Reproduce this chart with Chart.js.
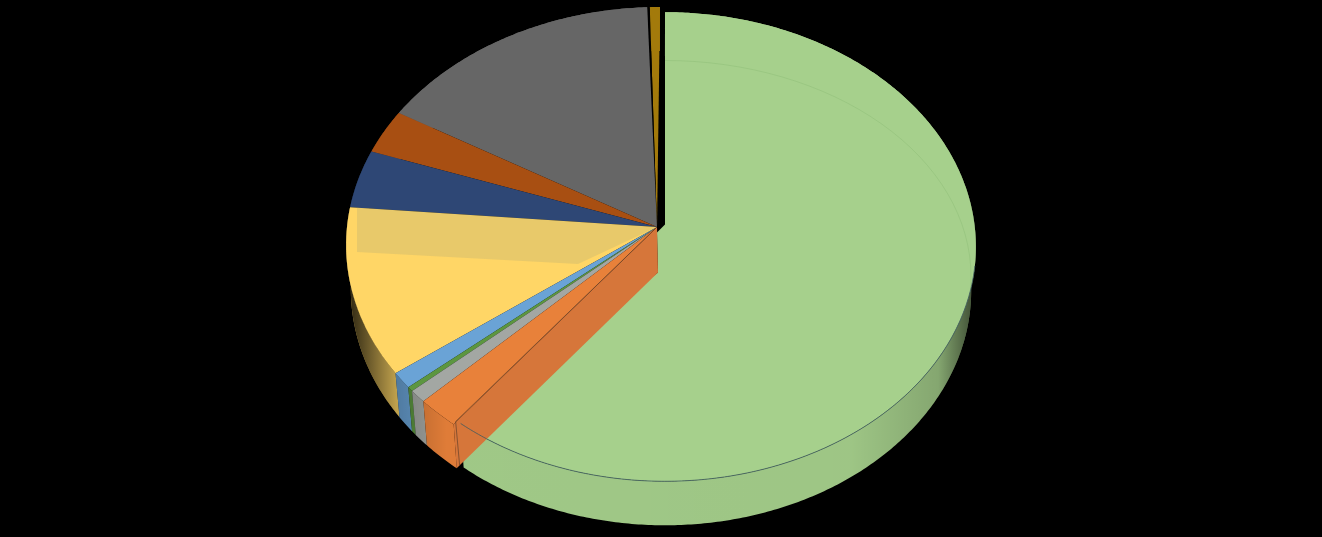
<!DOCTYPE html>
<html>
<head>
<meta charset="utf-8">
<title>Pie</title>
<style>
  html, body { margin: 0; padding: 0; background: #000; overflow: hidden; }
  canvas { display: block; }
</style>
<script src="https://cdn.jsdelivr.net/npm/chart.js@4"></script>
</head>
<body>
<canvas id="chart" width="1322" height="537"></canvas>
<script>
// no labels in the picture, so just numbered categories
const categories = ['1', '2', '3', '4', '5', '6', '7', '8', '9', '10', '11'];
// shares in percent
const values = [60.67, 2.06, 0.86, 0.3, 1.09, 11.39, 3.97, 3.03, 15.97, 0.14, 0.56];
const colors = ['#a6d08c', '#e8813a', '#a3a7a3', '#5c9640', '#6aa3d6', '#ffd666',
                '#2e4775', '#a84f12', '#666666', '#000000', '#a37a0b'];

// tilted disc, offsets are from the centre Chart.js gives the arcs
const K = 0.0756;
const DEPTH = 44;
const rest = { dx: -1, dy: -41.5, rx: 313, ry: 236.6 };
const big = { dx: 4, dy: -39.5, rx: 310, ry: 233.2 };

function rim(arc, disc, a) {
  const u = Math.cos(a), v = Math.sin(a);
  const w = 1 - K * v;
  return { x: arc.x + disc.dx + disc.rx * u / w, y: arc.y + disc.dy + disc.ry * v / w };
}

function tracePath(ctx, arc, disc, from, to) {
  const n = Math.max(2, Math.ceil(Math.abs(to - from) / 0.01));
  for (let i = 0; i <= n; i++) {
    const p = rim(arc, disc, from + (to - from) * i / n);
    ctx.lineTo(p.x, p.y);
  }
}

function drawWall(ctx, arc, disc, color) {
  const n = Math.max(2, Math.ceil((arc.endAngle - arc.startAngle) / 0.01));
  const pts = [];
  for (let i = 0; i <= n; i++) {
    pts.push(rim(arc, disc, arc.startAngle + (arc.endAngle - arc.startAngle) * i / n));
  }
  ctx.beginPath();
  pts.forEach(p => ctx.lineTo(p.x, p.y));
  pts.reverse().forEach(p => ctx.lineTo(arc.x + (p.x - arc.x) * 0.985, p.y + DEPTH));
  ctx.closePath();
  ctx.fillStyle = color;
  ctx.fill();
  // sides fall off into the dark left and right
  const g = ctx.createLinearGradient(arc.x - 315, 0, arc.x + 315, 0);
  g.addColorStop(0, 'rgba(0,0,0,0.85)');
  g.addColorStop(0.08, 'rgba(0,0,0,0.25)');
  g.addColorStop(0.16, 'rgba(0,0,0,0.04)');
  g.addColorStop(0.8, 'rgba(0,0,0,0.05)');
  g.addColorStop(0.94, 'rgba(0,0,0,0.2)');
  g.addColorStop(1, 'rgba(0,0,0,0.65)');
  ctx.fillStyle = g;
  ctx.fill();
}

const pie3d = {
  id: 'pie3d',
  beforeDatasetDraw(chart, args) {
    const ctx = chart.ctx;
    const arcs = args.meta.data;
    const green = arcs[0];
    const cx = green.x, cy = green.y;
    const apex = { x: cx - 4, y: cy - 41.5 };

    ctx.save();

    // outer walls of the small slices, then the big one
    for (let i = arcs.length - 1; i > 0; i--) {
      if (colors[i] !== '#000000') drawWall(ctx, arcs[i], rest, colors[i]);
    }
    drawWall(ctx, green, big, '#a6d08c');

    // top faces of the small slices
    for (let i = arcs.length - 1; i > 0; i--) {
      const arc = arcs[i];
      ctx.beginPath();
      ctx.moveTo(apex.x, apex.y);
      tracePath(ctx, arc, rest, arc.startAngle, arc.endAngle);
      ctx.closePath();
      ctx.fillStyle = colors[i];
      ctx.fill();

      // duller band across the yellow slice
      if (i === 5) {
        ctx.save();
        ctx.clip();
        ctx.beginPath();
        ctx.moveTo(cx - 304, cy - 90);
        ctx.lineTo(cx - 304, cy - 16.5);
        ctx.lineTo(cx - 83, cy - 4.5);
        ctx.lineTo(apex.x, apex.y);
        ctx.closePath();
        ctx.fillStyle = 'rgba(165,165,118,0.25)';
        ctx.fill();
        ctx.restore();
      }
    }

    // big slice, pulled away from the centre
    ctx.beginPath();
    tracePath(ctx, green, big, green.startAngle, green.endAngle);
    ctx.lineTo(cx - 3, cy + 4);
    ctx.lineTo(cx - 4, cy - 36);
    ctx.lineTo(cx + 4, cy - 44);
    ctx.closePath();
    ctx.fillStyle = colors[0];
    ctx.fill();

    // cut face of the orange slice, seen through the gap
    const corner = rim(green, rest, green.endAngle);
    ctx.beginPath();
    ctx.moveTo(apex.x, apex.y);
    ctx.lineTo(corner.x, corner.y);
    ctx.lineTo(corner.x + 3, corner.y + DEPTH);
    ctx.lineTo(cx - 3, cy + 4);
    ctx.closePath();
    ctx.fillStyle = '#d6763a';
    ctx.fill();

    // thin outlines
    ctx.lineWidth = 0.8;
    ctx.strokeStyle = '#3d5a60';
    ctx.beginPath();
    tracePath(ctx, green, big, green.startAngle + Math.PI * 0.55, green.endAngle);
    ctx.stroke();
    const end = rim(green, big, green.endAngle);
    ctx.strokeStyle = 'rgba(90,60,40,0.8)';
    ctx.beginPath();
    ctx.moveTo(end.x - 5, end.y - 2);
    ctx.lineTo(end.x - 1, end.y + DEPTH - 2);
    ctx.moveTo(end.x - 5, end.y - 2);
    ctx.lineTo(apex.x, apex.y);
    ctx.stroke();

    // faint inner ring on the green
    ctx.strokeStyle = 'rgba(120,170,100,0.25)';
    ctx.lineWidth = 1;
    ctx.beginPath();
    ctx.ellipse(cx + 4, cy + 8, 306, 216, 0, -Math.PI / 2, 0.05);
    ctx.stroke();

    ctx.restore();
    return false; // arcs are painted above instead
  }
};

new Chart(document.getElementById('chart'), {
  type: 'pie',
  data: {
    labels: categories,
    datasets: [{ data: values, backgroundColor: colors, borderWidth: 0 }]
  },
  options: {
    responsive: false,
    animation: false,
    plugins: { legend: { display: false }, tooltip: { enabled: false } }
  },
  plugins: [pie3d]
});
</script>
</body>
</html>
